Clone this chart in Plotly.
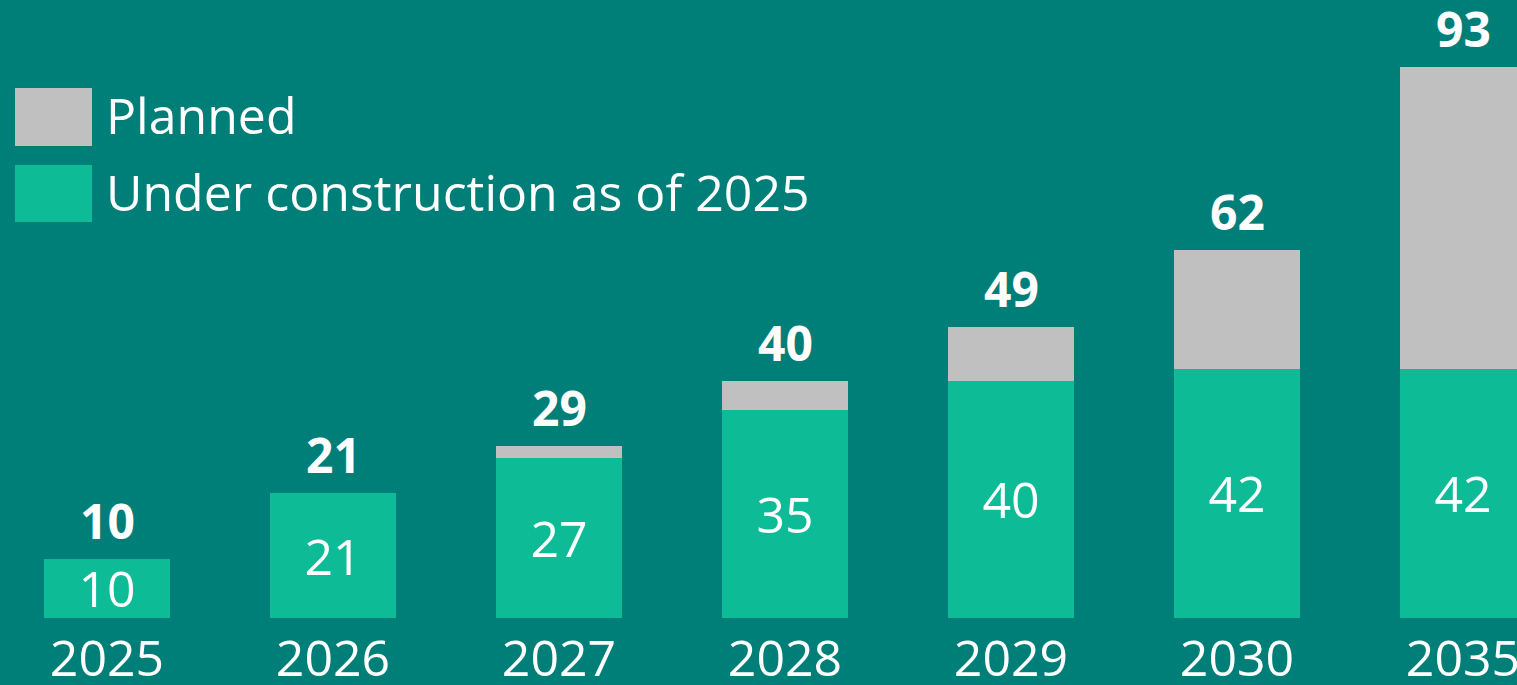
import plotly.graph_objects as go

years = ["2025", "2026", "2027", "2028", "2029", "2030", "2035"]
under_construction = [10, 21, 27, 35, 40, 42, 42]
totals = [10, 21, 29, 40, 49, 62, 93]
planned = [t - u for t, u in zip(totals, under_construction)]

bg = "#007E78"
green = "#0DBB97"
grey = "#C0C0C0"
font_family = "Open Sans, Noto Sans, sans-serif"

fig = go.Figure()

fig.add_trace(go.Bar(
    x=years, y=under_construction, name="Under construction as of 2025",
    marker=dict(color=green, line=dict(width=0)),
    text=[str(v) for v in under_construction],
    textposition="inside", insidetextanchor="middle",
    constraintext="none", textangle=0,
    textfont=dict(color="white", size=50, family=font_family),
    width=0.558,
))
fig.add_trace(go.Bar(
    x=years, y=planned, name="Planned",
    marker=dict(color=grey, line=dict(width=0)),
    textposition="none",
    width=0.558,
))

# totals above each bar (x given as category index)
for i, t in enumerate(totals):
    fig.add_annotation(
        x=i, y=t, text="<b>%d</b>" % t, showarrow=False,
        yanchor="bottom", yshift=4,
        font=dict(color="white", size=48, family=font_family),
    )

# hand-drawn legend with large swatches
legend_items = [("Planned", grey, 88, 146), ("Under construction as of 2025", green, 165, 222)]
plot_h = 685 - 67
for label, col, y0, y1 in legend_items:
    fig.add_shape(
        type="rect", xref="paper", yref="paper",
        x0=15 / 1517, x1=92 / 1517, y0=1 - y1 / plot_h, y1=1 - y0 / plot_h,
        fillcolor=col, line=dict(width=0), layer="above",
    )
    fig.add_annotation(
        xref="paper", yref="paper", x=104 / 1517, y=1 - ((y0 + y1) / 2 - 2) / plot_h,
        text=label, showarrow=False, xanchor="left", yanchor="middle",
        font=dict(color="white", size=50, family=font_family),
    )

fig.update_layout(
    barmode="stack",
    width=1517, height=685,
    margin=dict(l=0, r=0, t=0, b=67, autoexpand=False),
    paper_bgcolor=bg, plot_bgcolor=bg,
    showlegend=False,
    xaxis=dict(
        type="category", range=[-107 / 226, -107 / 226 + 1517 / 226],
        showgrid=False, zeroline=False, showline=False, ticks="",
        automargin=False, ticklabelstandoff=7,
        tickfont=dict(color="white", size=50, family=font_family),
    ),
    yaxis=dict(range=[0, 618 / 5.93], visible=False, showgrid=False, automargin=False),
)

fig.write_html(
    "out.html",
    config={"displayModeBar": False},
    post_script="document.body.style.margin='0';document.body.style.overflow='hidden';",
)
